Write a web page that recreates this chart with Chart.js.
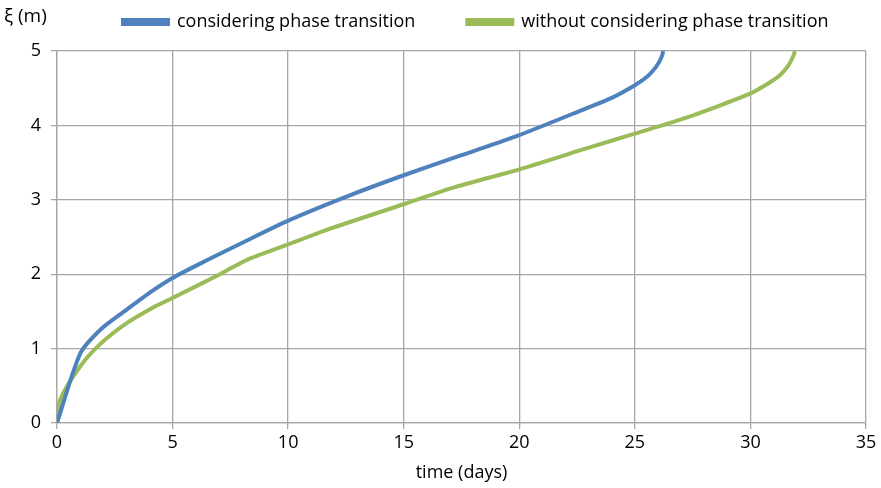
<!DOCTYPE html>
<html>
<head>
<meta charset="utf-8">
<script src="https://cdn.jsdelivr.net/npm/chart.js@4/dist/chart.umd.min.js"></script>
<style>
  html, body { margin: 0; padding: 0; background: #fff; }
  #wrap { width: 881px; height: 488px; }
</style>
</head>
<body>
<div id="wrap"><canvas id="chart" width="881" height="488"></canvas></div>
<script>
// serie: tempo (giorni) e profondità ξ (m)
const withPhaseTime  = [0, 1.0, 1.9, 3.0, 4.0, 5.0, 6.5, 8.0, 10.0, 12.5, 15.0, 17.5, 20.0, 22.9, 24.0, 25.0, 25.55, 25.9, 26.1, 26.2, 26.22];
const withPhaseDepth = [0, 0.93, 1.26, 1.52, 1.75, 1.95, 2.19, 2.42, 2.72, 3.04, 3.33, 3.60, 3.87, 4.23, 4.37, 4.54, 4.66, 4.78, 4.88, 4.96, 5.0];

const noPhaseTime  = [0, 0.13, 1.0, 1.9, 3.0, 4.2, 5.0, 7.05, 8.2, 10.0, 11.7, 15.0, 17.1, 20.0, 22.9, 25.0, 27.0, 28.7, 30.0, 30.75, 31.3, 31.65, 31.85, 31.93];
const noPhaseDepth = [0, 0.31, 0.76, 1.07, 1.34, 1.56, 1.68, 2.0, 2.19, 2.40, 2.60, 2.94, 3.16, 3.41, 3.69, 3.89, 4.08, 4.27, 4.43, 4.56, 4.68, 4.81, 4.93, 5.0];

const seriesLabels = ["considering phase transition", "without considering phase transition"];
const seriesColors = ["#4F81BD", "#9BBB59"];

const FONT = "'Open Sans', 'Liberation Sans', sans-serif";
const FONT_SIZE = 18;
const gridGray = "#a6a6a6";
const legendGap = 52;

function toPoints(xs, ys) {
  return xs.map((x, i) => ({ x: x, y: ys[i] }));
}

// titolo asse y in alto a sinistra, come nell'originale
const yTitle = {
  id: "yTitle",
  afterDraw(chart) {
    const c = chart.ctx;
    c.save();
    c.font = "19px " + FONT;
    c.fillStyle = "#000";
    c.textBaseline = "middle";
    c.textAlign = "left";
    c.fillText("ξ (m)", 4, 17);
    c.restore();
  }
};

// legenda: altezza fissa e posizione come nel grafico di partenza
const legendPlace = {
  id: "legendPlace",
  beforeInit(chart) {
    const lg = chart.legend;
    if (!lg) return;
    const fit = lg.fit;
    lg.fit = function () {
      fit.call(this);
      this.height = 51;
    };
  },
  afterLayout(chart) {
    const lg = chart.legend;
    if (!lg || !lg.lineWidths) return;
    const w = lg.right - lg.left;
    const s = 2 * 123 - legendGap + lg.lineWidths[0];
    lg.left = (s - w) / 2;
    lg.right = (s + w) / 2;
    lg.top = 22 - FONT_SIZE / 2 - legendGap;
    lg.bottom = 51;
  }
};

const ctx = document.getElementById("chart").getContext("2d");

new Chart(ctx, {
  type: "scatter",
  data: {
    datasets: [
      {
        label: seriesLabels[0],
        data: toPoints(withPhaseTime, withPhaseDepth),
        borderColor: seriesColors[0],
        backgroundColor: seriesColors[0],
        showLine: true,
        borderWidth: 4,
        pointRadius: 0,
        tension: 0.25
      },
      {
        label: seriesLabels[1],
        data: toPoints(noPhaseTime, noPhaseDepth),
        borderColor: seriesColors[1],
        backgroundColor: seriesColors[1],
        showLine: true,
        borderWidth: 4,
        pointRadius: 0,
        tension: 0.25
      }
    ]
  },
  options: {
    responsive: false,
    animation: false,
    layout: { padding: { left: 0, right: 15, top: 0, bottom: 0 } },
    plugins: {
      legend: {
        position: "top",
        labels: {
          boxWidth: 45,
          boxHeight: 4,
          padding: legendGap,
          color: "#000",
          font: { family: FONT, size: FONT_SIZE }
        }
      },
      tooltip: { enabled: false }
    },
    scales: {
      x: {
        type: "linear",
        min: 0,
        max: 35,
        ticks: { stepSize: 5, color: "#000", font: { family: FONT, size: FONT_SIZE }, padding: 3 },
        grid: { color: gridGray, lineWidth: 1.3, tickLength: 6 },
        border: { color: gridGray, width: 1.3 },
        title: {
          display: true,
          text: "time (days)",
          color: "#000",
          font: { family: FONT, size: FONT_SIZE },
          padding: { top: 2, bottom: 4 }
        },
        afterFit(scale) { scale.height = 65; }
      },
      y: {
        type: "linear",
        min: 0,
        max: 5,
        ticks: { stepSize: 1, color: "#000", font: { family: FONT, size: FONT_SIZE }, padding: 10 },
        grid: { color: gridGray, lineWidth: 1.3, tickLength: 6 },
        border: { color: gridGray, width: 1.3 },
        afterFit(scale) { scale.width = 57; }
      }
    }
  },
  plugins: [legendPlace, yTitle]
});
</script>
</body>
</html>
